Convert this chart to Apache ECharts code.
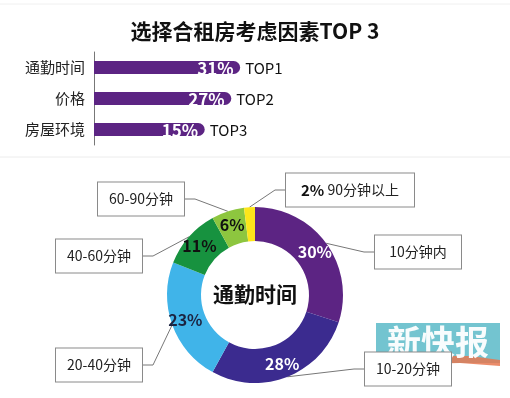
<!DOCTYPE html>
<html>
<head>
<meta charset="utf-8">
<script src="https://cdn.jsdelivr.net/npm/echarts@6/dist/echarts.min.js"></script>
<style>
  html, body { margin: 0; padding: 0; background: #fff; }
  #main { width: 510px; height: 398px; }
</style>
</head>
<body>
<div id="main"></div>
<script>
// 选择合租房考虑因素
var factorNames = ['通勤时间', '价格', '房屋环境'];
var factorValues = [31, 27, 15];
var factorTops = ['TOP1', 'TOP2', 'TOP3'];

// 通勤时间分布
var commuteNames = ['10分钟内', '10-20分钟', '20-40分钟', '40-60分钟', '60-90分钟', '90分钟以上'];
var commuteValues = [30, 28, 23, 11, 6, 2];
var commuteColors = ['#5c2483', '#3b2b8f', '#40b4e9', '#17923f', '#8dc63f', '#fde51a'];
var innerLabelColors = ['#fff', '#fff', '#1b2340', '#111', '#111', '#111'];

// 标注框位置
var boxPos = [[418, 252], [408, 369], [99, 365], [99, 256], [141, 199], [350, 190]];

var font = '"Noto Sans CJK SC", "Noto Sans", sans-serif';
var chart = echarts.init(document.getElementById('main'));

var innerData = commuteNames.map(function (n, i) {
    return {
        name: n,
        value: commuteValues[i],
        itemStyle: { color: commuteColors[i] },
        label: { show: i < 5, color: innerLabelColors[i] }
    };
});
var outerData = commuteNames.map(function (n, i) {
    var d = { name: n, value: commuteValues[i] };
    if (i == 5) {
        d.label = { width: 128, formatter: '{p|' + commuteValues[i] + '%} ' + n };
    }
    return d;
});

chart.setOption({
    textStyle: { fontFamily: font },
    title: {
        text: '选择合租房考虑因素TOP 3',
        left: 'center',
        top: 16,
        textStyle: { fontSize: 21, fontWeight: 'bold', color: '#111', fontFamily: font }
    },
    graphic: [
        { type: 'line', shape: { x1: 0, y1: 4, x2: 510, y2: 4 }, style: { stroke: '#f0f0f0', lineWidth: 1 } },
        { type: 'line', shape: { x1: 0, y1: 157, x2: 510, y2: 157 }, style: { stroke: '#ececec', lineWidth: 1 } },
        { type: 'text', x: 255, y: 294, z: 10, style: { text: '通勤时间', fill: '#111', font: 'bold 21px ' + font, align: 'center', verticalAlign: 'middle' } },
        {
            type: 'group', z: 100,
            children: [
                { type: 'rect', shape: { x: 376, y: 323, width: 124, height: 40 }, style: { fill: 'rgba(75,180,195,0.78)' } },
                { type: 'polygon', shape: { points: [[376, 364], [420, 356], [470, 356], [500, 360], [500, 366], [460, 363], [420, 364], [376, 370]] },
                  style: { fill: 'rgba(232,120,80,0.85)' } },
                { type: 'text', x: 438, y: 342, style: { text: '新快报', fill: 'rgba(255,255,255,0.95)', font: 'bold 34px ' + font, align: 'center', verticalAlign: 'middle' } }
            ]
        }
    ],
    grid: { left: 94, top: 52, width: 310, height: 93 },
    xAxis: {
        type: 'value', min: -35, max: 105, startValue: -35,
        show: false, splitLine: { show: false }
    },
    yAxis: {
        type: 'category', inverse: true, data: factorNames,
        axisLine: { onZero: false, lineStyle: { color: '#777', width: 1 } },
        axisTick: { show: false },
        axisLabel: { fontSize: 15, color: '#222', margin: 9 }
    },
    series: [
        {
            type: 'bar',
            data: factorValues,
            barWidth: 13,
            itemStyle: { color: '#5c2483', borderRadius: [0, 7, 7, 0] },
            label: {
                show: true,
                position: 'right',
                offset: [-48, 1],
                formatter: function (p) {
                    return '{v|' + p.value + '%}{t|' + factorTops[p.dataIndex] + '}';
                },
                rich: {
                    v: { color: '#fff', fontSize: 17, fontWeight: 'bold', width: 48 },
                    t: { color: '#111', fontSize: 15 }
                }
            }
        },
        {
            type: 'pie',
            center: [255, 295],
            radius: [54, 88],
            startAngle: 90,
            data: innerData,
            label: {
                position: 'inside',
                fontSize: 16,
                fontWeight: 'bold',
                formatter: '{c}%'
            },
            labelLine: { show: false },
            emphasis: { disabled: true }
        },
        {
            type: 'pie',
            center: [255, 295],
            radius: [54, 88],
            startAngle: 90,
            silent: true,
            z: 1,
            data: outerData,
            itemStyle: { color: 'rgba(0,0,0,0)' },
            label: {
                position: 'outside',
                fontSize: 14,
                color: '#222',
                backgroundColor: '#fff',
                borderColor: '#8a8a8a',
                borderWidth: 1,
                width: 86,
                lineHeight: 17,
                padding: [8, 0],
                align: 'center',
                rich: { p: { fontSize: 15, fontWeight: 'bold', color: '#111' } }
            },
            labelLine: { show: true, length: 10, length2: 10, lineStyle: { color: '#777', width: 1 } },
            labelLayout: function (params) {
                var p = boxPos[params.dataIndex];
                return { x: p[0], y: p[1], align: 'center', verticalAlign: 'middle' };
            }
        }
    ]
});
</script>
</body>
</html>
